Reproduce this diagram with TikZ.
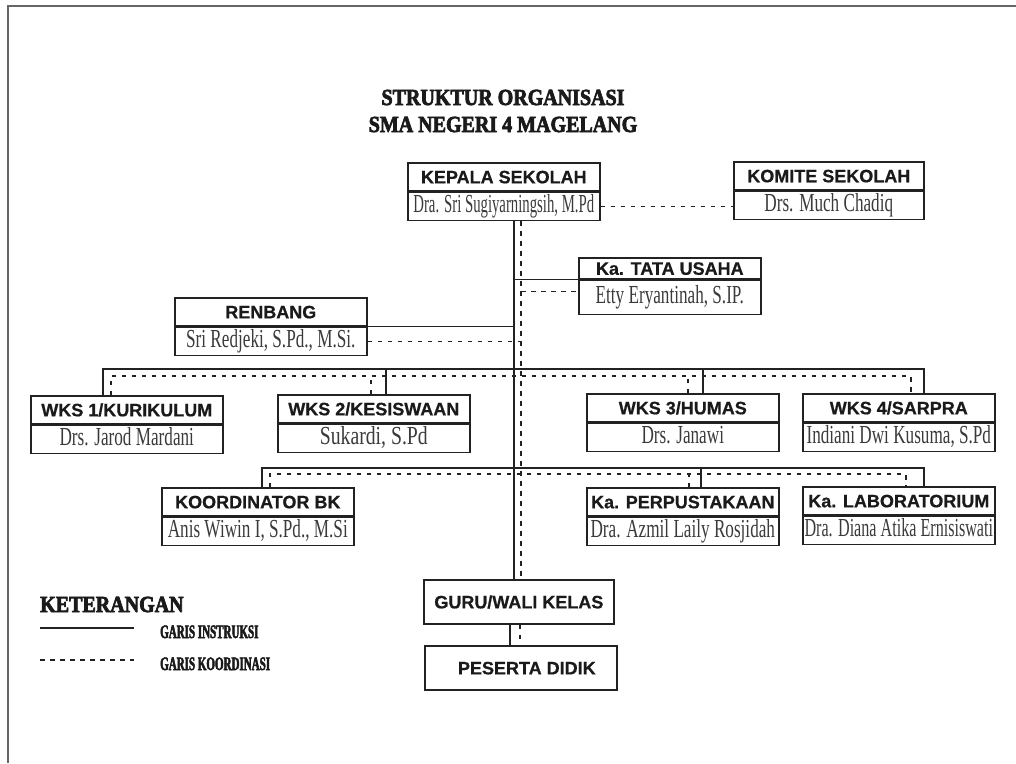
\documentclass[tikz,border=0pt]{standalone}
\usepackage{fontspec}
\usepackage{graphicx}
\usepackage{xcolor}
\usetikzlibrary{positioning}
\setmainfont{Liberation Serif}
\newfontfamily\jabatanfont[BoldFeatures={FakeBold=0.6}]{Liberation Sans}
\newfontfamily\namafont[FakeStretch=0.66]{Liberation Serif}
\newfontfamily\judulfont[FakeStretch=0.87,BoldFeatures={FakeBold=3}]{Liberation Serif}
\newfontfamily\ketfont[FakeStretch=0.58,BoldFeatures={FakeBold=2.5}]{Liberation Serif}
\definecolor{garis}{HTML}{222222}
\definecolor{teks}{HTML}{1A1A1A}
\definecolor{teksnama}{HTML}{3A3A3A}
\definecolor{bingkai}{HTML}{666666}

\begin{document}
\begin{tikzpicture}[x=1pt,y=-1pt,
    garisinstruksi/.style={draw=garis,line width=1.7pt},
    gariskoordinasi/.style={draw=garis,line width=1.6pt,dash pattern=on 4.5pt off 5.5pt},
    jabatan/.style={draw=garis,line width=1.6pt,anchor=north west,inner sep=0pt,
      minimum width=192pt,minimum height=28pt,text height=13pt,text depth=0pt,
      font=\jabatanfont\bfseries\fontsize{18}{20}\selectfont,text=teks},
    pejabat/.style={draw=garis,line width=1.6pt,inner sep=0pt,
      minimum width=192pt,minimum height=28pt,text height=18pt,text depth=5pt,
      font=\namafont\fontsize{26}{28}\selectfont,text=teksnama},
    kotak/.style={draw=garis,line width=1.7pt,anchor=north west,inner sep=0pt,
      minimum width=190pt,minimum height=44pt,text height=13pt,text depth=0pt,
      font=\jabatanfont\bfseries\fontsize{18}{20}\selectfont,text=teks},
    kop/.style={anchor=base,inner sep=0pt,
      font=\judulfont\bfseries\fontsize{23}{26}\selectfont,text=teks},
    ket/.style={anchor=base west,inner sep=0pt,
      font=\ketfont\bfseries\fontsize{19}{21}\selectfont,text=teks}]
  \useasboundingbox (0,0) rectangle (1016,763);
  \draw[bingkai,line width=2pt] (8,763) -- (8,6) -- (1016,6);

  \node[kop] (judul)   at (503,105) {STRUKTUR ORGANISASI};
  \node[kop] (sekolah) at (503,132) {SMA NEGERI 4 MAGELANG};

  \node[jabatan] (kepala) at (407,162) {KEPALA SEKOLAH};
  \node[pejabat,below=0pt of kepala] (kepalaN) {\scalebox{0.86}[1]{Dra. Sri Sugiyarningsih, M.Pd}};
  \node[jabatan,minimum width=190pt] (komite) at (733,161) {KOMITE SEKOLAH};
  \node[pejabat,minimum width=190pt,below=0pt of komite] (komiteN) {Drs. Much Chadiq};
  \node[jabatan,minimum width=182pt,minimum height=21pt] (tu) at (578,257) {Ka. TATA USAHA};
  \node[pejabat,minimum width=182pt,minimum height=34pt,below=0pt of tu] (tuN) {Etty Eryantinah, S.IP.};
  \node[jabatan] (renbang) at (174,297) {RENBANG};
  \node[pejabat,below=0pt of renbang] (renbangN) {Sri Redjeki, S.Pd., M.Si.};

  \node[jabatan] (wks1) at (30,395) {WKS 1/KURIKULUM};
  \node[pejabat,below=0pt of wks1] (wks1N) {Drs. Jarod Mardani};
  \node[jabatan] (wks2) at (277,394) {WKS 2/KESISWAAN};
  \node[pejabat,below=0pt of wks2] (wks2N) {\scalebox{1.15}[1]{Sukardi, S.Pd}};
  \node[jabatan] (wks3) at (586,393) {WKS 3/HUMAS};
  \node[pejabat,below=0pt of wks3] (wks3N) {Drs. Janawi};
  \node[jabatan] (wks4) at (802,393) {WKS 4/SARPRA};
  \node[pejabat,below=0pt of wks4] (wks4N) {Indiani Dwi Kusuma, S.Pd};

  \node[jabatan] (bk) at (161,487) {KOORDINATOR BK};
  \node[pejabat,below=0pt of bk] (bkN) {Anis Wiwin I, S.Pd., M.Si};
  \node[jabatan] (perpus) at (586,487) {Ka. PERPUSTAKAAN};
  \node[pejabat,below=0pt of perpus] (perpusN) {Dra. Azmil Laily Rosjidah};
  \node[jabatan] (lab) at (802,486) {Ka. LABORATORIUM};
  \node[pejabat,below=0pt of lab] (labN) {\scalebox{0.94}[1]{Dra. Diana Atika Ernisiswati}};

  \node[kotak] (guru) at (423,579) {GURU/WALI KELAS};
  \node[kotak,minimum width=192pt] (peserta) at (424,645) {\hspace*{12pt}PESERTA DIDIK};

  \coordinate (ts) at (514,0);
  \coordinate (td) at (521,0);
  \coordinate (bus1) at (0,369);
  \coordinate (bus2) at (0,376);
  \coordinate (bus3) at (0,468);
  \coordinate (bus4) at (0,474);
  \coordinate (tuD) at ([yshift=6pt]tuN.west);
  \coordinate (w1s) at ([xshift=-24pt]wks1.north);
  \coordinate (w1d) at ([xshift=-16pt]wks1.north);
  \coordinate (w2s) at ([xshift=12pt]wks2.north);
  \coordinate (w2d) at ([xshift=-3pt]wks2.north);
  \coordinate (w3s) at ([xshift=20pt]wks3.north);
  \coordinate (w3d) at ([xshift=5pt]wks3.north);
  \coordinate (w4s) at ([xshift=25pt]wks4.north);
  \coordinate (w4d) at ([xshift=12pt]wks4.north);
  \coordinate (b1s) at ([xshift=4pt]bk.north);
  \coordinate (b1d) at ([xshift=12pt]bk.north);
  \coordinate (b2s) at ([xshift=18pt]perpus.north);
  \coordinate (b2d) at ([xshift=6pt]perpus.north);
  \coordinate (b3s) at ([xshift=25pt]lab.north);
  \coordinate (b3d) at ([xshift=7pt]lab.north);
  \coordinate (gs) at ([xshift=-9pt]guru.south);
  \coordinate (gd) at ([xshift=1pt]guru.south);

  \draw[garisinstruksi] (kepalaN.south -| ts) -- (guru.north -| ts);
  \draw[gariskoordinasi] (kepalaN.south -| td) -- (guru.north -| td);
  \draw[garisinstruksi] (gs) -- (gs |- peserta.north);
  \draw[gariskoordinasi] (gd) -- (gd |- peserta.north);
  \draw[gariskoordinasi] (kepalaN.east) -- (kepalaN.east -| komiteN.west);
  \draw[garisinstruksi] (tu.south west -| ts) -- (tu.south west);
  \draw[gariskoordinasi] (tuD -| td) -- (tuD);
  \draw[garisinstruksi] (renbangN.north east) -- (renbangN.north east -| ts);
  \draw[gariskoordinasi] (renbangN.east) -- (renbangN.east -| td);

  \draw[garisinstruksi] (w1s) |- (bus1 -| w4s) -- (w4s);
  \draw[gariskoordinasi] (w1d) |- (bus2 -| w4d) -- (w4d);
  \foreach \k in {2,3} {
    \draw[garisinstruksi] (w\k s) -- (w\k s |- bus1);
    \draw[gariskoordinasi] (w\k d) -- (w\k d |- bus2);
  }
  \draw[garisinstruksi] (b1s) |- (bus3 -| b3s) -- (b3s);
  \draw[gariskoordinasi] (b1d) |- (bus4 -| b3d) -- (b3d);
  \draw[garisinstruksi] (b2s) -- (b2s |- bus3);
  \draw[gariskoordinasi] (b2d) -- (b2d |- bus4);

  \node[kop,anchor=base west,font=\judulfont\bfseries\fontsize{23}{26}\selectfont] (keterangan) at (40,612) {KETERANGAN};
  \coordinate (li1) at (40,628);
  \coordinate (li2) at (134,628);
  \coordinate (lk1) at (40,660);
  \coordinate (lk2) at (134,660);
  \draw[garisinstruksi] (li1) -- (li2);
  \draw[gariskoordinasi] (lk1) -- (lk2);
  \node[ket] (instruksi) at (160,638) {GARIS INSTRUKSI};
  \node[ket] (koordinasi) at (160,670) {GARIS KOORDINASI};
\end{tikzpicture}
\end{document}
